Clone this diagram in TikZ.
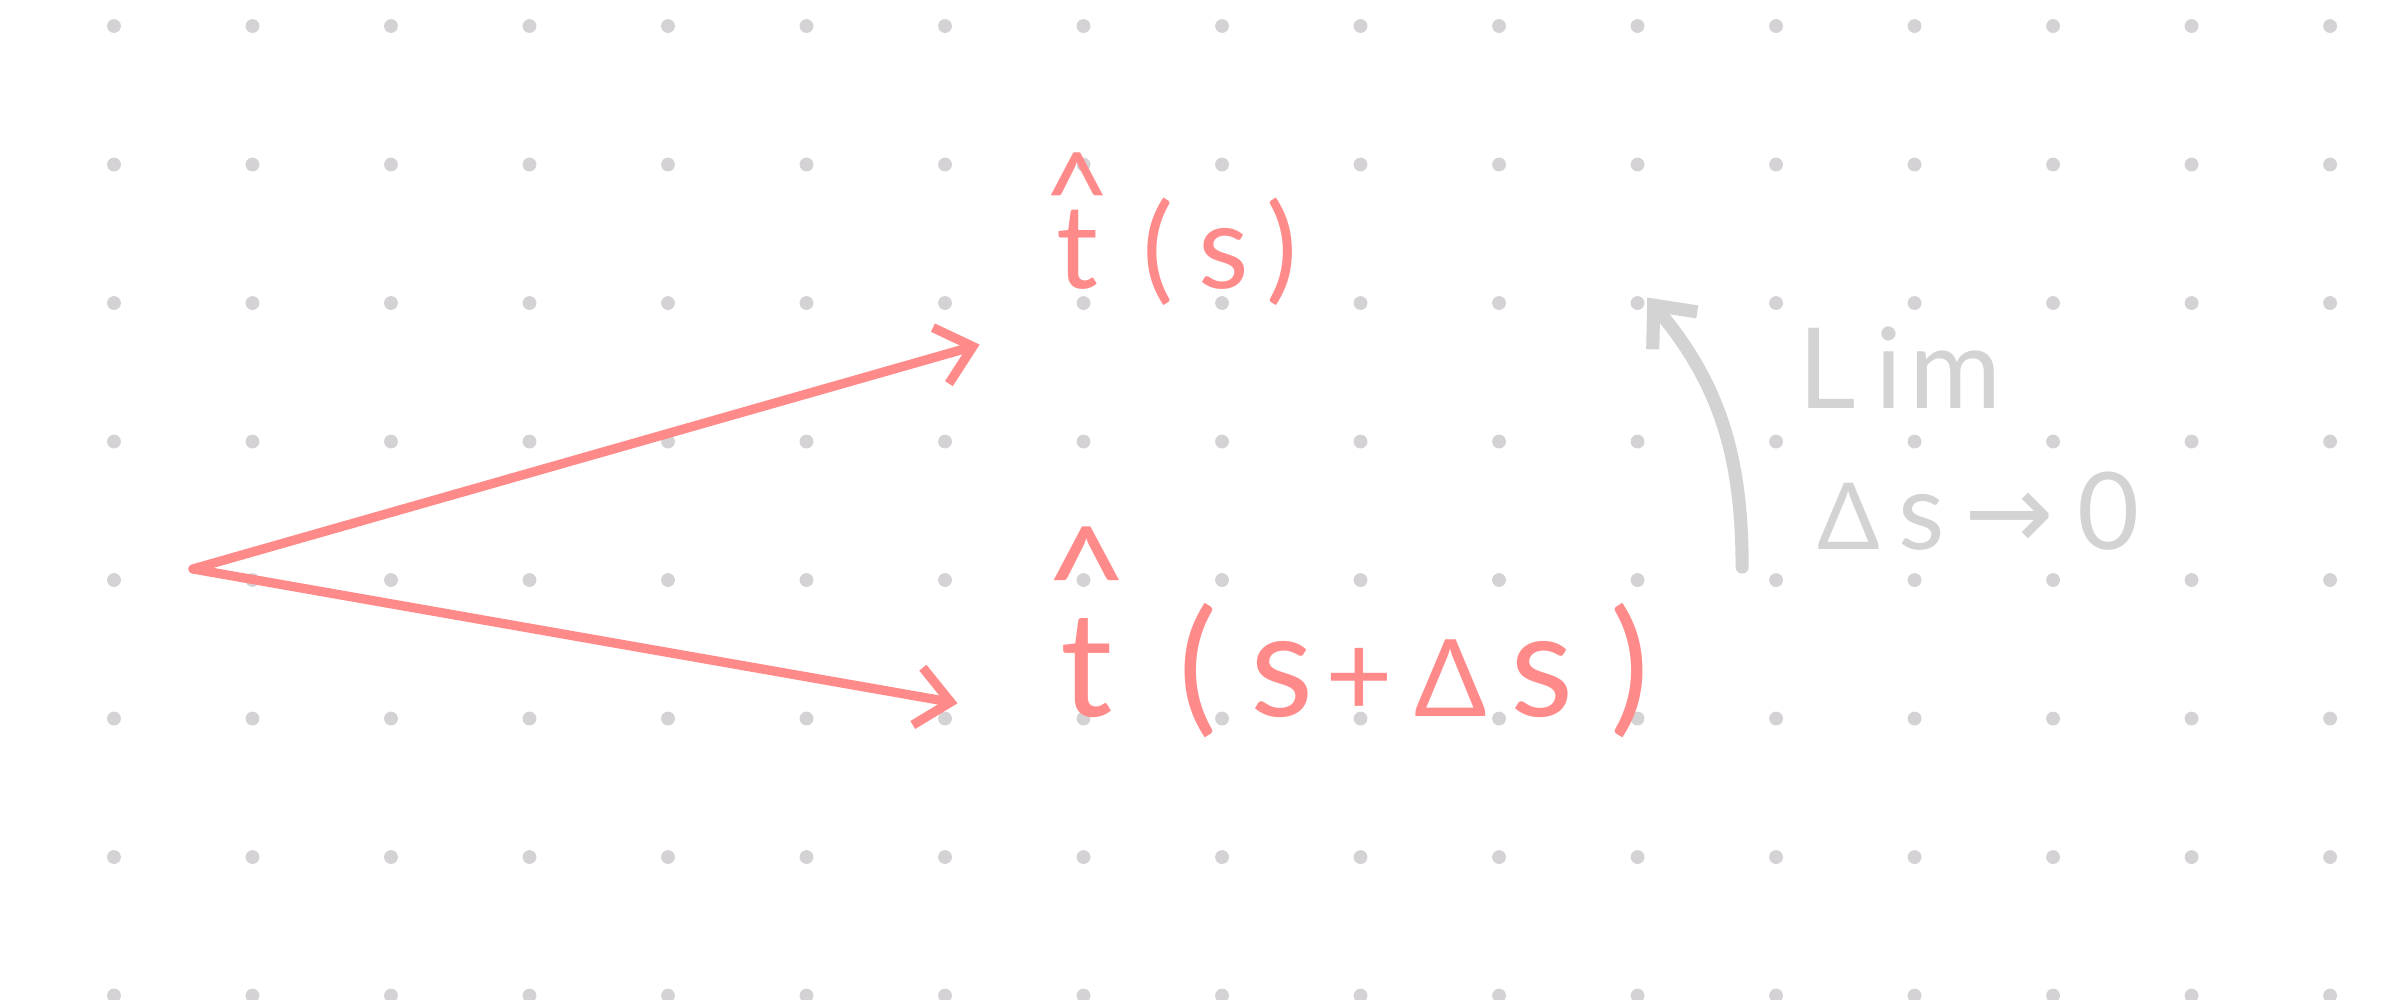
\RequirePackage{fix-cm}
\documentclass[tikz,border=0pt]{standalone}
\usepackage{amsmath}
\usepackage{fontspec}
\setmainfont{Lato}
\newfontfamily\arrowfont{DejaVu Sans}
\usetikzlibrary{arrows.meta}
\usepackage{xcolor}
\definecolor{penred}{RGB}{255,138,138}
\definecolor{pengrey}{RGB}{211,211,211}
\definecolor{dotgrey}{RGB}{212,210,212}

% one hand-spaced glyph: width in cm, glyph
\newcommand{\gl}[2]{\makebox[#1cm]{#2}}
% t with a caret over it, caret raised by #1
\newcommand{\hatt}[1]{\makebox[0pt]{\raisebox{#1}[0pt][0pt]{\textasciicircum}}\makebox[0pt]{t}}

\begin{document}
\begin{tikzpicture}[
  vec/.style={penred, line width=1.9pt, line cap=round, line join=round,
    -{Straight Barb[length=0.24cm,width=0.42cm]}},
  lbl/.style={penred, inner sep=0pt, anchor=base west},
  note/.style={pengrey, inner sep=0pt, anchor=base west}]

\useasboundingbox (-0.823,0.188) rectangle (16.375,-7.025);

% === Dot paper ===
\foreach \i in {0,...,16}
  \foreach \j in {0,...,7}
    \fill[dotgrey] (\i,-\j) circle (0.05);

% === Tangent vectors ===
\coordinate (O) at (0.57,-3.92);
\coordinate (tipA) at (6.25,-2.30);
\coordinate (tipB) at (6.09,-4.89);
\draw[vec] (O) -- (tipA);
\draw[vec] (O) -- (tipB);

\node[lbl, font=\fontsize{24}{28}\selectfont] (ts) at (6.635,-1.892)
  {\gl{0.628}{\hatt{0.44em}}\gl{0.534}{(}\gl{0.422}{s}\gl{0.412}{)}};
\node[lbl, font=\fontsize{30}{36}\selectfont] (tds) at (6.573,-4.982)
  {\gl{0.892}{\hatt{0.58em}}\gl{0.711}{(}\gl{0.500}{s}%
   \gl{0.619}{\fontsize{24}{24}\selectfont +}%
   \gl{0.693}{\fontsize{22}{22}\selectfont Δ}\gl{0.630}{s}\gl{0.643}{)}};

% === Limit ===
\coordinate (limStart) at (11.755,-3.906);
\coordinate (limEnd) at (11.07,-1.96);
\draw[pengrey, line width=2.7pt, line cap=round, line join=round,
  -{Straight Barb[length=0.24cm,width=0.42cm]}]
  (limStart) to[out=90,in=-50] (limEnd);

\node[note, font=\fontsize{23}{28}\selectfont] (lim) at (12.153,-2.758)
  {\gl{0.422}{L}\gl{0.464}{i}\gl{0.505}{m}};
\node[note, font=\fontsize{22}{26}\selectfont] (ds) at (12.276,-3.783)
  {\gl{0.480}{\fontsize{19}{19}\selectfont Δ}\gl{0.570}{s}%
   \gl{0.699}{\arrowfont →}\gl{0.736}{0}};

\end{tikzpicture}
\end{document}
